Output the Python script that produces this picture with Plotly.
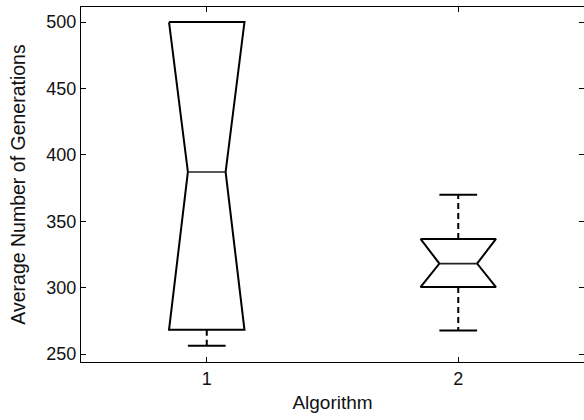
import plotly.graph_objects as go

# ---- data ----
algorithms = [1, 2]
q1_vals = [268.2, 300.4]
median_vals = [387.1, 318.1]
q3_vals = [500.0, 336.7]
lower_whisker = [256.2, 267.7]
upper_whisker = [500.0, 370.0]
tick_vals_y = [250, 300, 350, 400, 450, 500]
tick_text_x = ["1", "2"]

# ---- style constants ----
BOX_HALF = 0.15
NOTCH_HALF = 0.075
CAP_HALF = 0.075
FONT = "Liberation Sans, Arial, Helvetica, sans-serif"

box_x, box_y = [], []
med_x, med_y = [], []
wh_x, wh_y = [], []
cap_x, cap_y = [], []
for c, q1, med, q3, lo, hi in zip(algorithms, q1_vals, median_vals, q3_vals,
                                  lower_whisker, upper_whisker):
    box_x += [c - BOX_HALF, c + BOX_HALF, c + NOTCH_HALF, c + BOX_HALF,
              c - BOX_HALF, c - NOTCH_HALF, c - BOX_HALF, None]
    box_y += [q3, q3, med, q1, q1, med, q3, None]
    med_x += [c - NOTCH_HALF, c + NOTCH_HALF, None]
    med_y += [med, med, None]
    wh_x += [c, c, None, c, c, None]
    wh_y += [q3, hi, None, q1, lo, None]
    cap_x += [c - CAP_HALF, c + CAP_HALF, None, c - CAP_HALF, c + CAP_HALF, None]
    cap_y += [hi, hi, None, lo, lo, None]

fig = go.Figure()
fig.add_trace(go.Scatter(x=wh_x, y=wh_y, mode="lines",
                         line=dict(color="black", width=2, dash="6px,4px"),
                         hoverinfo="skip", showlegend=False))
fig.add_trace(go.Scatter(x=cap_x, y=cap_y, mode="lines",
                         line=dict(color="black", width=2),
                         hoverinfo="skip", showlegend=False))
fig.add_trace(go.Scatter(x=box_x, y=box_y, mode="lines",
                         line=dict(color="black", width=2),
                         hoverinfo="skip", showlegend=False))
fig.add_trace(go.Scatter(x=med_x, y=med_y, mode="lines",
                         line=dict(color="#222222", width=1.6),
                         hoverinfo="skip", showlegend=False))

axis_common = dict(showgrid=False, zeroline=False, showline=True, linecolor="black",
                   linewidth=1, mirror="ticks", ticks="inside", ticklen=5,
                   tickcolor="black", tickwidth=1,
                   tickfont=dict(family=FONT, size=18, color="#111111"))

fig.update_xaxes(range=[0.5, 2.5], tickvals=algorithms, ticktext=tick_text_x,
                 title=dict(text="Algorithm", font=dict(family=FONT, size=19, color="#111111"),
                            standoff=8),
                 **axis_common)
fig.update_yaxes(range=[244, 511.3], tickvals=tick_vals_y,
                 title=dict(text="Average Number of Generations",
                            font=dict(family=FONT, size=19.5, color="#111111"), standoff=15),
                 **axis_common)

fig.update_layout(width=584, height=420,
                  margin=dict(l=81, r=0, t=7, b=58, autoexpand=False),
                  paper_bgcolor="white", plot_bgcolor="white",
                  showlegend=False)

fig.write_html("out.html")
